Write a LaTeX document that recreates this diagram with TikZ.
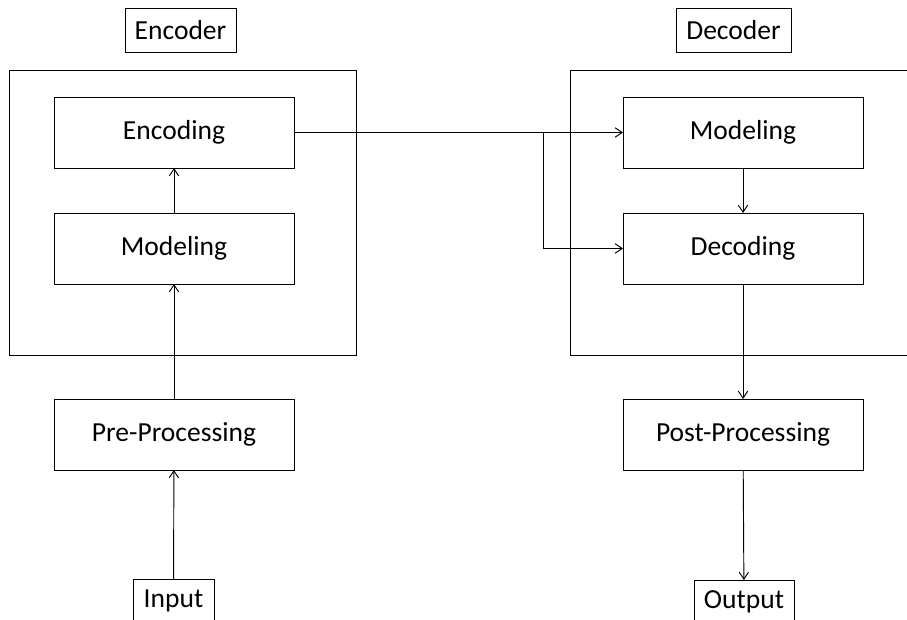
\documentclass[tikz,border=0pt]{standalone}
\usepackage{fontspec}
\setmainfont{Carlito}
\usetikzlibrary{arrows.meta}

\begin{document}
\begin{tikzpicture}[x=0.03cm, y=-0.03cm,
	every node/.style={font=\fontsize{23.5}{28}\selectfont},
	block/.style={draw, line width=0.8pt, inner sep=0pt, outer sep=0pt, minimum width=7.2cm, minimum height=2.13cm},
	tag/.style={draw, line width=0.8pt, inner sep=0pt, outer sep=0pt, minimum height=1.32cm},
	flow/.style={line width=0.8pt, -{Straight Barb[length=6pt, width=8pt]}}]

	%page, cuts the open boxes at the edges
	\clip (0,0) rectangle (907,619);

	%encoder and decoder frames
	\draw[line width=0.8pt] (9,70) rectangle (356,355);
	\draw[line width=0.8pt] (570,70) rectangle (930,355);

	%titles
	\node[tag, minimum width=3.33cm] (enctitle) at (180.5,30) {Encoder};
	\node[tag, minimum width=3.45cm] (dectitle) at (733.5,30) {Decoder};

	%encoder side
	\node[block] (encoding) at (174,132.5) {Encoding};
	\node[block] (encmodel) at (174,248.5) {Modeling};
	\node[block] (preproc) at (174,434.5) {Pre-Processing};
	\node[tag, minimum width=2.43cm] (input) at (173.5,601) {Input};

	%decoder side
	\node[block] (decmodel) at (743,132.5) {Modeling};
	\node[block] (decoding) at (743,248.5) {Decoding};
	\node[block] (postproc) at (743,434.5) {Post-Processing};
	\node[tag, minimum width=3cm] (output) at (744,602) {Output};

	%connectors
	\draw[flow] (input) -- (preproc);
	\draw[flow] (preproc) -- (encmodel);
	\draw[flow] (encmodel) -- (encoding);
	\draw[flow] (encoding) -- (decmodel);
	\coordinate (split) at (543,132.5);
	\draw[flow] (split) |- (decoding);
	\draw[flow] (decmodel) -- (decoding);
	\draw[flow] (decoding) -- (postproc);
	\draw[flow] (postproc) -- (output);

\end{tikzpicture}
\end{document}
